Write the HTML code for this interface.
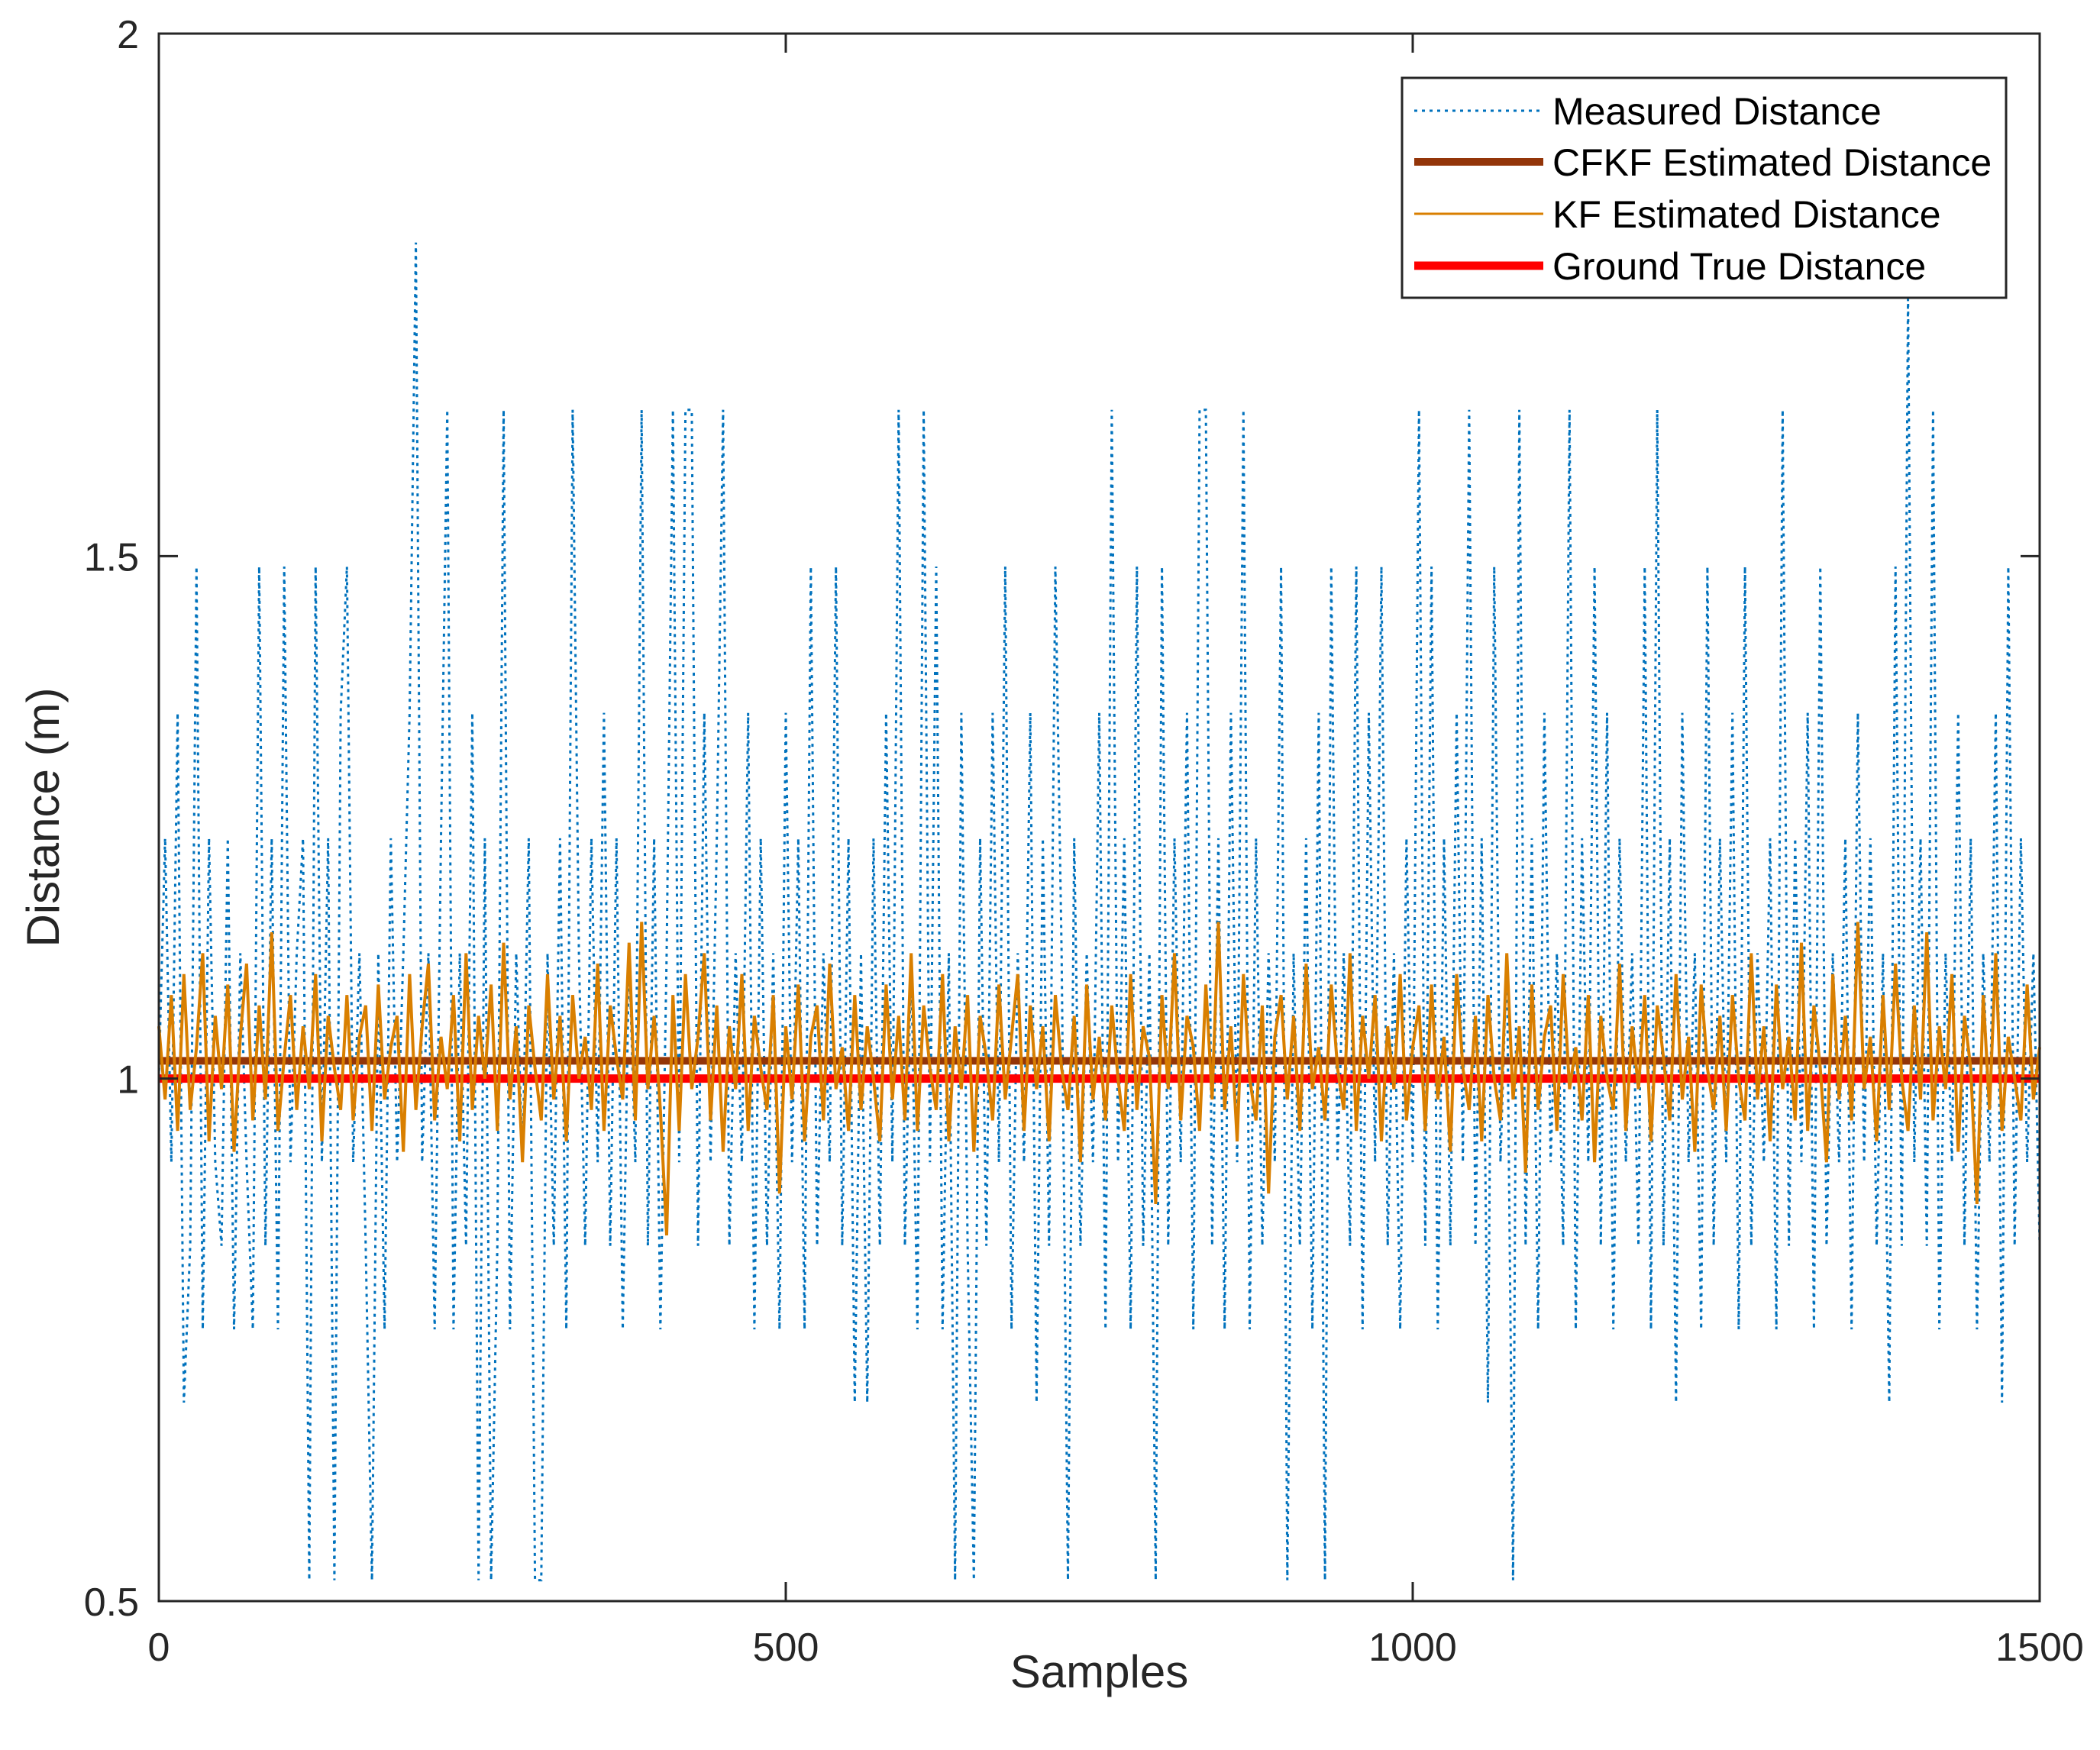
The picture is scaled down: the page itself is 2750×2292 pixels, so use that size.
<!DOCTYPE html>
<html><head><meta charset="utf-8"><style>
html,body{margin:0;padding:0;background:#fff}
svg{display:block;font-family:"Liberation Sans",Arial,sans-serif}
</style></head><body>
<svg id="chart" width="2750" height="2292" viewBox="0 0 2750 2292" xmlns="http://www.w3.org/2000/svg">
<rect x="0" y="0" width="2750" height="2292" fill="#fff"/>
<g id="series"></g>
<g id="axes"></g>
<g id="legend"></g>
</svg>
<script>
const measured = [1.0,1.23,0.92,1.35,0.69,0.84,1.49,0.76,1.23,0.92,
0.84,1.23,0.76,1.12,0.92,0.76,1.49,0.84,1.23,0.76,
1.49,0.92,1.12,1.23,0.52,1.49,0.92,1.23,0.52,1.35,
1.49,0.92,1.12,0.84,0.52,1.12,0.76,1.23,0.92,1.12,
1.35,1.80,0.92,1.12,0.76,1.23,1.64,0.76,1.12,0.84,
1.35,0.52,1.23,0.52,0.84,1.64,0.76,1.12,0.92,1.23,
0.52,0.52,1.12,0.84,1.23,0.76,1.64,1.12,0.84,1.23,
0.92,1.35,0.84,1.23,0.76,1.12,0.92,1.64,0.84,1.23,
0.76,1.12,1.64,0.92,1.64,1.64,0.84,1.35,0.92,1.23,
1.64,0.84,1.12,0.92,1.35,0.76,1.23,0.84,1.12,0.76,
1.35,0.92,1.23,0.76,1.49,0.84,1.12,0.92,1.49,0.84,
1.23,0.69,1.12,0.69,1.23,0.84,1.35,0.92,1.64,0.84,
1.12,0.76,1.64,0.92,1.49,0.76,1.12,0.52,1.35,0.84,
0.52,1.23,0.84,1.35,0.92,1.49,0.76,1.12,0.92,1.35,
0.69,1.23,0.84,1.49,1.12,0.52,1.23,0.84,1.12,0.92,
1.35,0.76,1.64,0.92,1.23,0.76,1.49,0.84,1.12,0.52,
1.49,0.84,1.23,0.92,1.35,0.76,1.64,1.64,0.84,1.23,
0.76,1.35,0.92,1.64,0.76,1.23,0.84,1.12,0.92,1.49,
0.52,1.12,0.84,1.23,0.76,1.35,0.52,1.49,0.92,1.12,
0.84,1.49,0.76,1.35,0.92,1.49,0.84,1.12,0.76,1.23,
0.92,1.64,0.84,1.49,0.76,1.23,0.84,1.35,0.92,1.64,
0.84,1.23,0.69,1.49,0.92,1.12,0.52,1.64,0.84,1.23,
0.76,1.35,0.92,1.12,0.84,1.64,0.76,1.23,0.92,1.49,
0.84,1.35,0.76,1.23,0.92,1.12,0.84,1.49,0.76,1.64,
0.84,1.23,0.69,1.35,0.92,1.12,0.76,1.49,0.84,1.23,
0.92,1.35,0.76,1.49,0.84,1.12,0.92,1.23,0.76,1.64,
0.84,1.23,0.92,1.35,0.76,1.49,0.84,1.12,0.92,1.23,
0.76,1.35,0.92,1.23,0.84,1.12,0.69,1.49,0.84,1.75,
0.92,1.23,0.84,1.64,0.76,1.12,0.92,1.35,0.84,1.23,
0.76,1.12,0.92,1.35,0.69,1.49,0.84,1.23,0.92,1.12,0.84];
const kfEstimate = [1.05,0.98,1.08,0.95,1.10,0.97,1.03,1.12,0.94,1.06,
0.99,1.09,0.93,1.04,1.11,0.96,1.07,0.98,1.14,0.95,
1.02,1.08,0.97,1.05,0.99,1.10,0.94,1.06,1.01,0.97,
1.08,0.96,1.04,1.07,0.95,1.09,0.98,1.03,1.06,0.93,
1.10,0.97,1.05,1.11,0.96,1.04,0.99,1.08,0.94,1.12,
0.97,1.06,1.00,1.09,0.95,1.13,0.98,1.05,0.92,1.07,
1.01,0.96,1.10,0.98,1.06,0.94,1.08,1.00,1.04,0.97,
1.11,0.95,1.07,1.02,0.98,1.13,0.96,1.15,0.99,1.06,
0.97,0.85,1.08,0.95,1.10,0.99,1.04,1.12,0.96,1.07,
0.93,1.05,0.99,1.10,0.95,1.06,1.01,0.97,1.08,0.89,
1.05,0.98,1.09,0.94,1.04,1.07,0.96,1.11,0.99,1.03,
0.95,1.08,0.97,1.05,1.00,0.94,1.09,0.98,1.06,0.96,
1.12,0.95,1.07,1.01,0.97,1.10,0.94,1.05,0.99,1.08,
0.93,1.06,1.02,0.96,1.09,0.98,1.04,1.10,0.95,1.07,
0.99,1.05,0.94,1.08,1.01,0.97,1.06,0.92,1.09,0.98,
1.04,0.96,1.07,1.00,0.95,1.10,0.97,1.05,1.02,0.88,
1.08,0.99,1.12,0.96,1.06,1.03,0.95,1.09,0.98,1.15,
0.97,1.05,0.94,1.10,1.00,0.96,1.07,0.89,1.04,1.08,
0.98,1.06,0.95,1.11,0.99,1.03,0.96,1.09,1.01,0.97,
1.12,0.95,1.06,1.00,1.08,0.94,1.05,0.99,1.10,0.96,
1.03,1.07,0.95,1.09,0.98,1.04,0.93,1.10,1.01,0.97,
1.06,0.94,1.08,1.00,0.96,1.12,0.98,1.05,0.91,1.09,
0.97,1.04,1.07,0.95,1.10,0.99,1.03,0.96,1.08,0.92,
1.06,1.00,0.97,1.11,0.95,1.05,0.99,1.08,0.94,1.07,
1.02,0.96,1.10,0.98,1.04,0.93,1.09,1.01,0.97,1.06,
0.95,1.08,1.00,0.96,1.12,0.98,1.05,0.94,1.09,0.99,
1.04,0.96,1.13,0.95,1.07,1.01,0.92,1.10,0.98,1.06,
0.96,1.15,0.99,1.04,0.94,1.08,0.97,1.11,1.00,0.95,
1.07,0.98,1.14,0.96,1.05,0.99,1.10,0.93,1.06,1.01,
0.88,1.08,0.97,1.12,0.95,1.04,1.00,0.96,1.09,0.98,
1.03];
const cfkfValue = [1.017];
const groundTruth = [1.0];
const xTicks = [0, 500, 1000, 1500];
const xTickLabels = ["0", "500", "1000", "1500"];
const yTicks = [0.5, 1, 1.5, 2];
const yTickLabels = ["0.5", "1", "1.5", "2"];
const legendLabels = ["Measured Distance", "CFKF Estimated Distance", "KF Estimated Distance", "Ground True Distance"];

const NS = "http://www.w3.org/2000/svg";
const L = 208, R = 2671, T = 44, B = 2097;
const xMin = 0, xMax = 1500, yMin = 0.5, yMax = 2;
function xs(v){ return L + (v - xMin) / (xMax - xMin) * (R - L); }
function ys(v){ return B - (v - yMin) / (yMax - yMin) * (B - T); }
function mk(tag, attrs, parent){ const e = document.createElementNS(NS, tag); for (const k in attrs) e.setAttribute(k, attrs[k]); parent.appendChild(e); return e; }

const series = document.getElementById('series');
const axes = document.getElementById('axes');
const legend = document.getElementById('legend');

function seriesPath(arr){
  const n = arr.length;
  return arr.map((v, i) => (i ? 'L' : 'M') + xs(xMin + i * (xMax - xMin) / (n - 1)).toFixed(1) + ' ' + ys(v).toFixed(1)).join('');
}
const mPath = mk('path', {d: seriesPath(measured), fill: 'none', stroke: '#0072BD', 'stroke-width': 3, 'stroke-dasharray': '4 6'}, series);



const cf = mk('line', {x1: xs(xMin), x2: xs(xMax), y1: ys(cfkfValue[0]), y2: ys(cfkfValue[0]), stroke: '#933509', 'stroke-width': 10}, series);



const gt = mk('line', {x1: xs(xMin), x2: xs(xMax), y1: ys(groundTruth[0]), y2: ys(groundTruth[0]), stroke: '#FF0000', 'stroke-width': 11}, series);



const kf = mk('path', {d: seriesPath(kfEstimate), fill: 'none', stroke: '#D97F00', 'stroke-width': 4}, series);



const box = mk('rect', {x: L, y: T, width: R - L, height: B - T, fill: 'none', stroke: '#262626', 'stroke-width': 3}, axes);



xTicks.forEach((t, i) => {
  const x = xs(t);
  mk('line', {x1: x, x2: x, y1: B, y2: B - 25, stroke: '#262626', 'stroke-width': 3}, axes);
  mk('line', {x1: x, x2: x, y1: T, y2: T + 25, stroke: '#262626', 'stroke-width': 3}, axes);
  const tx = mk('text', {x: x, y: B + 78, 'text-anchor': 'middle', 'font-size': 52, fill: '#262626'}, axes);
  tx.textContent = xTickLabels[i];
  
  
});
yTicks.forEach((t, i) => {
  const y = ys(t);
  mk('line', {x1: L, x2: L + 25, y1: y, y2: y, stroke: '#262626', 'stroke-width': 3}, axes);
  mk('line', {x1: R, x2: R - 25, y1: y, y2: y, stroke: '#262626', 'stroke-width': 3}, axes);
  const ty = mk('text', {x: 182, y: y + 19, 'text-anchor': 'end', 'font-size': 52, fill: '#262626'}, axes);
  ty.textContent = yTickLabels[i];
  
  
});
const xt = mk('text', {x: (L + R) / 2, y: 2210, 'text-anchor': 'middle', 'font-size': 60, fill: '#262626'}, axes);
xt.textContent = 'Samples';


const yt = mk('text', {x: 0, y: 0, 'text-anchor': 'middle', 'font-size': 60, fill: '#262626', transform: 'translate(77,' + ((T + B) / 2) + ') rotate(-90)'}, axes);
yt.textContent = 'Distance (m)';



const lb = mk('rect', {x: 1836, y: 102, width: 791, height: 288, fill: '#fff', stroke: '#262626', 'stroke-width': 3}, legend);


const rowsY = [145, 212, 280, 348];
const legStyles = [
  {stroke: '#0072BD', 'stroke-width': 3, 'stroke-dasharray': '4 6'},
  {stroke: '#933509', 'stroke-width': 10},
  {stroke: '#D97F00', 'stroke-width': 3},
  {stroke: '#FF0000', 'stroke-width': 11}
];
legendLabels.forEach((lab, i) => {
  const g = mk('g', {}, legend);
  
  
  const s = Object.assign({x1: 1852, x2: 2021, y1: rowsY[i], y2: rowsY[i]}, legStyles[i]);
  mk('line', s, g);
  const t = mk('text', {x: 2033, y: rowsY[i] + 18, 'font-size': 50, fill: '#000'}, g);
  t.textContent = lab;
});
</script>
</body></html>
